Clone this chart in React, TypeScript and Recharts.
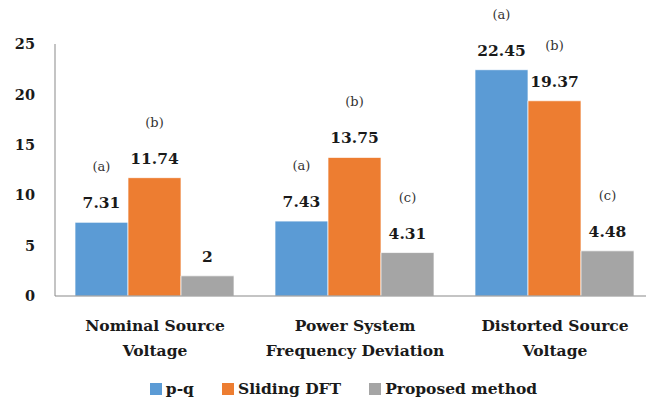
import * as React from "react";
import { Bar, BarChart, LabelList, Legend, XAxis, YAxis } from "recharts";

const categories = ["Nominal Source|Voltage", "Power System|Frequency Deviation", "Distorted Source|Voltage"];
const pqValues = [7.31, 7.43, 22.45];
const slidingDftValues = [11.74, 13.75, 19.37];
const proposedValues = [2, 4.31, 4.48];
const pqNotes = ["(a)", "(a)", "(a)"];
const slidingDftNotes = ["(b)", "(b)", "(b)"];
const proposedNotes = ["", "(c)", "(c)"];
const yTicks = [0, 5, 10, 15, 20, 25];

const seriesList = [
  { key: "pq", name: "p-q", color: "#5B9BD5", notes: pqNotes },
  { key: "sdft", name: "Sliding DFT", color: "#ED7D31", notes: slidingDftNotes },
  { key: "proposed", name: "Proposed method", color: "#A5A5A5", notes: proposedNotes },
];

const data = categories.map((category, i) => ({
  category,
  pq: pqValues[i],
  sdft: slidingDftValues[i],
  proposed: proposedValues[i],
}));

const FONT = "DejaVu Serif";

function makeLabel(notes: string[]) {
  return function ValueLabel(props: any) {
    const { x, y, width, value, index } = props;
    const cx = Number(x) + Number(width) / 2;
    const top = Number(y);
    return (
      <g>
        <text x={cx} y={top - 14} textAnchor="middle" fontFamily={FONT} fontWeight="bold" fontSize={15.5} fill="#1a1a1a">
          {value}
        </text>
        {notes[index] ? (
          <text x={cx} y={top - 51} textAnchor="middle" fontFamily={FONT} fontSize={13} fill="#333">
            {notes[index]}
          </text>
        ) : null}
      </g>
    );
  };
}

function CategoryTick(props: any) {
  const { x, y, payload } = props;
  const lines = String(payload.value).split("|");
  return (
    <text x={x} y={y} textAnchor="middle" fontFamily={FONT} fontWeight="bold" fontSize={15.5} fill="#1a1a1a">
      {lines.map((line, i) => (
        <tspan key={i} x={x} y={y + 33 + i * 25}>
          {line}
        </tspan>
      ))}
    </text>
  );
}

function LegendContent() {
  return (
    <div style={{ display: "flex", justifyContent: "center", alignItems: "center", paddingLeft: 32, fontFamily: FONT, fontWeight: "bold", fontSize: 15.5, color: "#1a1a1a" }}>
      {seriesList.map((s) => (
        <span key={s.key} style={{ display: "inline-flex", alignItems: "center", margin: "0 14px" }}>
          <span style={{ width: 12, height: 12, background: s.color, display: "inline-block", marginRight: 4 }} />
          {s.name}
        </span>
      ))}
    </div>
  );
}

export default function App() {
  return (
    <div style={{ position: "absolute", left: 0, top: 0, width: 646, height: 403, overflow: "hidden", background: "#fff" }}>
      <BarChart width={660} height={403} data={data} margin={{ top: 44, right: 5, bottom: 0, left: 0 }} barGap={0} barCategoryGap="10%">
        <XAxis dataKey="category" tick={<CategoryTick />} tickLine={false} tickSize={0} height={83} axisLine={{ stroke: "#898989" }} interval={0} />
        <YAxis
          domain={[0, 25]}
          ticks={yTicks}
          width={55}
          tickLine={false}
          tickSize={0}
          tickMargin={20}
          axisLine={{ stroke: "#898989" }}
          tick={{ fontFamily: FONT, fontWeight: "bold", fontSize: 14.5, fill: "#1a1a1a" }}
        />
        <Legend verticalAlign="bottom" height={24} content={<LegendContent />} />
        {seriesList.map((s) => (
          <Bar key={s.key} dataKey={s.key} name={s.name} fill={s.color} stroke="#fff" strokeWidth={0.7} isAnimationActive={false}>
            <LabelList dataKey={s.key} content={makeLabel(s.notes)} />
          </Bar>
        ))}
      </BarChart>
    </div>
  );
}
